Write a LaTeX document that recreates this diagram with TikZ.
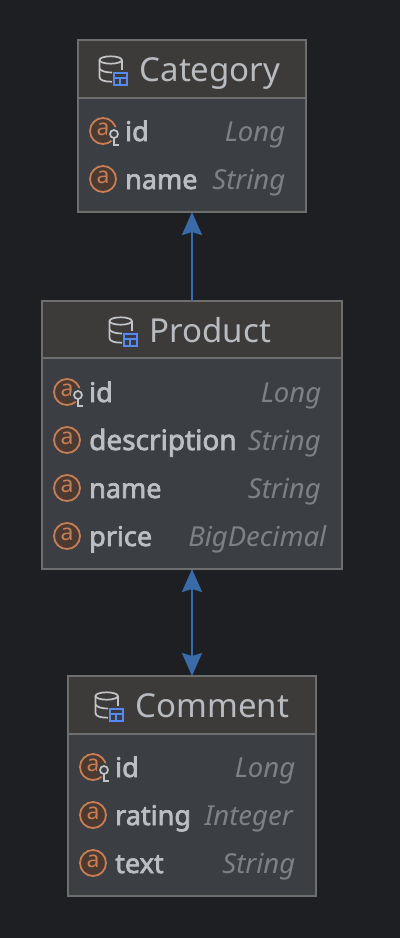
\documentclass[tikz,border=0pt]{standalone}
\usepackage{fontspec}
\setmainfont{Noto Sans}
\newfontfamily\namefont[FakeBold=2.5]{Noto Sans}
\usetikzlibrary{arrows.meta}
\definecolor{bgc}{HTML}{1E1F22}
\definecolor{headc}{HTML}{3C3B3A}
\definecolor{bodyc}{HTML}{3B3F43}
\definecolor{framec}{HTML}{6E6E6E}
\definecolor{titlec}{HTML}{B8BBC0}
\definecolor{namec}{HTML}{BCBEC4}
\definecolor{typec}{HTML}{7E8083}
\definecolor{orangec}{HTML}{C77D55}
\definecolor{orangef}{HTML}{4A3A32}
\definecolor{bluec}{HTML}{548AF7}
\definecolor{arrowc}{HTML}{3A6AA8}
\definecolor{iconc}{HTML}{C2C4C8}
\tikzset{
  x=1pt,y=-1pt,
  entitybox/.style={draw=framec,line width=1.3pt,fill=bodyc,inner sep=0pt,outer sep=0pt,anchor=north west},
  entityhead/.style={fill=headc,inner sep=0pt,outer sep=0pt,anchor=north west},
  sepline/.style={draw=framec,line width=1.3pt},
  titletext/.style={font=\fontsize{33}{36}\selectfont,text=titlec,anchor=base west,inner sep=0pt},
  nametext/.style={font=\fontsize{27}{30}\namefont\selectfont,text=namec,anchor=base west,inner sep=0pt},
  longnametext/.style={font=\fontsize{28}{30}\namefont\selectfont,text=namec,anchor=base west,inner sep=0pt},
  typetext/.style={font=\fontsize{27.5}{30}\selectfont\itshape,text=typec,anchor=base east,inner sep=0pt},
  glyphtext/.style={font=\fontsize{23}{25}\selectfont,text=orangec,inner sep=0pt},
  relation/.style={draw=arrowc,line width=2.3pt},
}
% database-with-table icon; #1,#2 = top-left of the drum
\newcommand{\dbicon}[2]{%
  \begin{scope}[shift={(#1,#2)}]
    \draw[iconc,line width=1.7pt] (11.7,4) ellipse [x radius=11.2pt,y radius=3.7pt];
    \draw[iconc,line width=1.7pt] (0.5,4) -- (0.5,21) .. controls (0.5,24.5) and (6,25.7) .. (13,25.7);
    \draw[iconc,line width=1.7pt] (22.9,4) -- (22.9,14);
    \draw[iconc,line width=1.7pt] (0.5,12.5) .. controls (2,15.5) and (8,16.5) .. (13,16.5);
    \draw[bluec,line width=2pt] (14.5,17) rectangle (28,28.5);
    \draw[bluec,line width=2pt] (14.5,21.5) -- (28,21.5) (21.2,21.5) -- (21.2,28.5);
  \end{scope}}
% attribute icon; #1,#2 = centre
\newcommand{\attricon}[2]{%
  \draw[orangec,fill=orangef,line width=1.8pt] (#1,#2) circle [radius=13pt];
  \node[glyphtext] at (#1,#2-1.5) {a};}
% key badge; #1,#2 = centre of the ring
\newcommand{\keybadge}[2]{%
  \begin{scope}[shift={(#1,#2)}]
    \fill[bodyc] (0,0) circle [radius=7pt];
    \draw[iconc,line width=1.7pt] (0,0) circle [radius=4pt];
    \draw[iconc,line width=1.7pt] (0,4) -- (0,12) (0,10.8) -- (5,10.8);
  \end{scope}}
\begin{document}
\begin{tikzpicture}
\useasboundingbox[fill=bgc] (0,0) rectangle (400,938);
% Category
\node[entitybox,minimum width=228pt,minimum height=172pt] (category) at (78,40) {};
\node[entityhead,minimum width=226.7pt,minimum height=57.4pt] (categoryhead) at (78.65,40.65) {};
\draw[sepline] (78.5,98) -- (305.5,98);
\dbicon{99}{56}
\node[titletext] (categorytitle) at (139.5,81) {Category};
\attricon{103}{131}\keybadge{114}{134}
\node[nametext] (cid) at (125,141) {id};
\node[typetext] (ctid) at (285.5,141) {Long};
\attricon{103}{179}
\node[nametext] (cname) at (125,189) {name};
\node[typetext] (ctname) at (285.5,189) {String};
% Product
\node[entitybox,minimum width=300pt,minimum height=268pt] (product) at (42,301) {};
\node[entityhead,minimum width=298.7pt,minimum height=56.4pt] (producthead) at (42.65,301.65) {};
\draw[sepline] (42.5,358) -- (341.5,358);
\dbicon{109}{317}
\node[titletext] (producttitle) at (149.5,342) {Product};
\attricon{67}{392}\keybadge{78}{395}
\node[nametext] (pid) at (89,402) {id};
\node[typetext] (ptid) at (321.5,402) {Long};
\attricon{67}{440}
\begin{scope}
  \clip (60,415) rectangle (236,465);
  \node[longnametext] (pdesc) at (89,450) {description};
\end{scope}
\node[typetext] (ptdesc) at (321,450) {String};
\attricon{67}{488}
\node[nametext] (pname) at (89,498) {name};
\node[typetext] (ptname) at (321,498) {String};
\attricon{67}{536}
\node[nametext] (pprice) at (89,546) {price};
\node[typetext] (ptprice) at (326.5,546) {BigDecimal};
% Comment
\node[entitybox,minimum width=248pt,minimum height=220pt] (comment) at (68,676) {};
\node[entityhead,minimum width=246.7pt,minimum height=57.4pt] (commenthead) at (68.65,676.65) {};
\draw[sepline] (68.5,734) -- (315.5,734);
\dbicon{95}{692}
\node[titletext] (commenttitle) at (135.5,717) {Comment};
\attricon{93}{767}\keybadge{104}{770}
\node[nametext] (coid) at (115,777) {id};
\node[typetext] (cotid) at (295.5,777) {Long};
\attricon{93}{815}
\node[nametext] (corating) at (115,825) {rating};
\node[typetext] (cotrating) at (293,825) {Integer};
\attricon{93}{863}
\node[nametext] (cotext) at (115,873) {text};
\node[typetext] (cottext) at (295.5,873) {String};
% relations
\draw[relation,-{Stealth[length=23pt,width=20pt,inset=3pt,color=arrowc]}] (product.north) -- (category.south);
\draw[relation,{Stealth[length=23pt,width=20pt,inset=3pt,color=arrowc]}-{Stealth[length=23pt,width=20pt,inset=3pt,color=arrowc]}] (product.south) -- (comment.north);
\end{tikzpicture}
\end{document}
